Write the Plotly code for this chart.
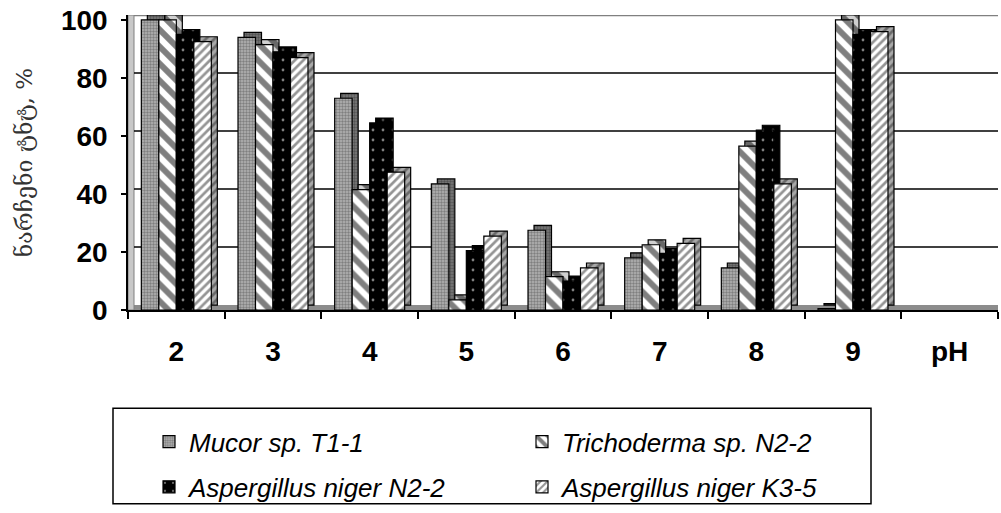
import plotly.graph_objects as go

# pH categories shown on the x axis (the last slot only carries the axis name)
categories = ['2', '3', '4', '5', '6', '7', '8', '9', 'pH']
ph_levels = ['2', '3', '4', '5', '6', '7', '8', '9']

# residual TNT, % for each strain
mucor = [100, 94, 73, 43.5, 27.5, 18, 14.5, 0.5]
trichoderma = [100, 91.5, 41.5, 3.5, 11.5, 22.5, 56.5, 100]
asp_n22 = [95, 89, 64.5, 20.5, 10, 19.5, 62, 95]
asp_k35 = [92.5, 87, 47.5, 25.5, 14.5, 23, 43.5, 96]

names = ['Mucor sp. T1-1', 'Trichoderma sp. N2-2',
         'Aspergillus niger N2-2', 'Aspergillus niger K3-5']
values = [mucor, trichoderma, asp_n22, asp_k35]

# fill styles: (front bg, front fg, pattern shape, size, solidity, depth-face bg, depth-face fg)
styles = [
    ('#b4b4b4', '#4a4a4a', '.', 3, 0.5, '#7a7a7a', '#2e2e2e'),
    ('#ffffff', '#000000', '\\', 12, 0.5, '#d0d0d0', '#000000'),
    ('#000000', '#ffffff', '.', 10, 0.06, '#000000', '#888888'),
    ('#ffffff', '#2a2a2a', '/', 6, 0.45, '#a8a8a8', '#2a2a2a'),
]

W, H = 1001, 513
M_L, M_R, M_T, M_B = 128, 3, 15, 198
plot_w = W - M_L - M_R
plot_h = H - M_T - M_B
Y_TOP = 101.7
px_per_cat = plot_w / len(categories)
px_per_unit = plot_h / Y_TOP

# pseudo-3D depth of the bars and walls
dx = 6 / px_per_cat
dy = 5 / px_per_unit
bar_w = 0.181
first_off = -2 * bar_w

fig = go.Figure()
for i, (name, vals, st) in enumerate(zip(names, values, styles)):
    bg, fg, shape, size, sol, sbg, sfg = st
    off = first_off + i * bar_w
    # side/top face, pushed back and up
    fig.add_trace(go.Bar(
        x=ph_levels, y=vals, base=dy, offset=off + dx, width=bar_w,
        marker=dict(color=sbg,
                    pattern=dict(shape=shape, fgcolor=sfg, bgcolor=sbg,
                                 size=size, solidity=sol),
                    line=dict(color='black', width=1.2)),
        showlegend=False, hoverinfo='skip', cliponaxis=False))
    # front face
    fig.add_trace(go.Bar(
        x=ph_levels, y=vals, offset=off, width=bar_w, name=name,
        marker=dict(color=bg,
                    pattern=dict(shape=shape, fgcolor=fg, bgcolor=bg,
                                 size=size, solidity=sol),
                    line=dict(color='black', width=1.2)),
        legend='legend' if i < 2 else 'legend2', cliponaxis=False))

shapes = []
# floor strip and left wall
shapes.append(dict(type='rect', xref='paper', yref='y', x0=0, x1=1, y0=0, y1=dy,
                   fillcolor='#8c8c8c', line=dict(width=0), layer='below'))
shapes.append(dict(type='rect', xref='paper', yref='y', x0=0, x1=6 / plot_w,
                   y0=0, y1=100 + dy, fillcolor='#c8c8c8',
                   line=dict(color='#808080', width=1), layer='below'))
# gridlines on the back wall
for v in [20, 40, 60, 80]:
    shapes.append(dict(type='line', xref='paper', yref='y', x0=6 / plot_w, x1=1,
                       y0=v + dy, y1=v + dy, line=dict(color='black', width=1.6),
                       layer='below'))
shapes.append(dict(type='line', xref='paper', yref='y', x0=6 / plot_w, x1=1,
                   y0=100 + dy, y1=100 + dy, line=dict(color='#808080', width=2.5),
                   layer='below'))
# legend frame
shapes.append(dict(type='rect', xref='paper', yref='paper',
                   x0=(113 - M_L) / plot_w, x1=(871 - M_L) / plot_w,
                   y0=(H - M_B - 512) / plot_h, y1=(H - M_B - 415) / plot_h,
                   line=dict(color='black', width=1.5), fillcolor='rgba(0,0,0,0)'))

legend_common = dict(orientation='h', xanchor='left', yanchor='top',
                     x=(149 - M_L) / plot_w, entrywidth=328,
                     bgcolor='rgba(0,0,0,0)', borderwidth=0,
                     font=dict(family='Liberation Sans, Arial', size=26,
                               color='black', style='italic'))

fig.update_layout(
    width=W, height=H,
    margin=dict(l=M_L, r=M_R, t=M_T, b=M_B),
    paper_bgcolor='white', plot_bgcolor='white',
    barmode='overlay',
    showlegend=True,
    legend=dict(y=(H - M_B - 425) / plot_h, **legend_common),
    legend2=dict(y=(H - M_B - 471) / plot_h, **legend_common),
    shapes=shapes,
    xaxis=dict(type='category', categoryorder='array', categoryarray=categories,
               range=[-0.5, len(categories) - 0.5],
               showline=True, linecolor='black', linewidth=1.5,
               ticks='outside', tickson='boundaries', ticklen=7,
               tickcolor='black', tickwidth=1.5, ticklabelstandoff=16,
               showgrid=False, zeroline=False,
               tickfont=dict(family='Liberation Sans, Arial', size=28,
                             color='black', weight='bold')),
    yaxis=dict(range=[0, Y_TOP], tickvals=[0, 20, 40, 60, 80, 100],
               showline=True, linecolor='black', linewidth=1.5,
               ticks='outside', ticklen=5, tickcolor='black', tickwidth=1.5,
               ticklabelstandoff=8, showgrid=False, zeroline=False,
               tickfont=dict(family='Liberation Sans, Arial', size=28,
                             color='black', weight='bold'),
               title=dict(text='ნარჩენი ტნტ, %', standoff=22,
                          font=dict(family='DejaVu Serif, DejaVu Sans', size=23,
                                    color='#333333'))),
)

fig.write_html('out.html')
